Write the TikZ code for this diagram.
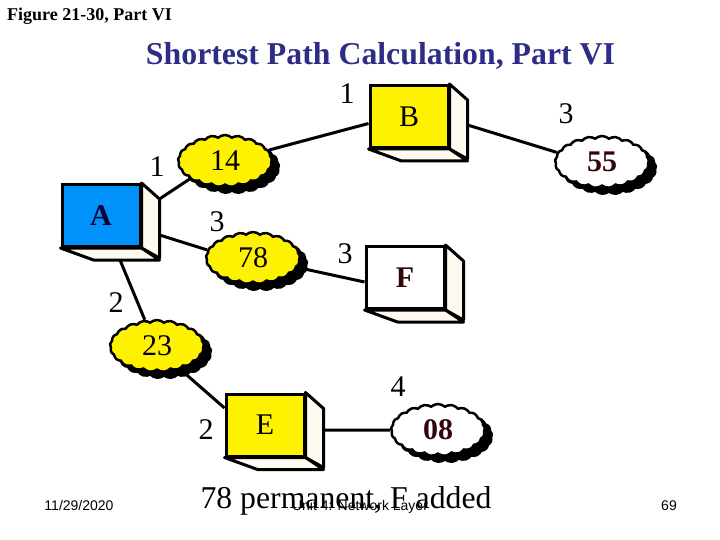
\documentclass[tikz,border=0pt]{standalone}
\usepackage{fontspec}
\setmainfont{Liberation Serif}
\setsansfont{Liberation Sans}
\usetikzlibrary{shapes.symbols,shadows}
\definecolor{sideBeige}{RGB}{255,250,240}
\definecolor{nodeBlue}{RGB}{0,145,250}
\definecolor{darkRed}{RGB}{50,5,10}
\definecolor{darkNavy}{RGB}{10,0,50}
\definecolor{titleBlue}{RGB}{45,45,135}
\tikzset{
	routerbox/.style={draw, line width=3pt, minimum width=78pt, minimum height=62pt, inner sep=0pt, font=\fontsize{30}{30}\selectfont},
	panel/.style={draw, line width=3pt, fill=sideBeige, line join=round},
	bubble/.style={cloud, cloud puffs=21, cloud puff arc=85, aspect=1.9, draw=black, line width=2.5pt, minimum width=94pt, minimum height=52pt, inner sep=0pt,
		copy shadow={shadow xshift=7pt, shadow yshift=-6pt, fill=black, draw=black}, font=\fontsize{30}{30}\selectfont},
	link/.style={line width=3pt},
	weight/.style={font=\fontsize{30}{30}\selectfont, inner sep=0pt},
	footer/.style={font=\sffamily\fontsize{14}{14}\selectfont, inner sep=0pt, anchor=base}
}
\begin{document}
\begin{tikzpicture}[x=1pt, y=-1pt]
	\useasboundingbox (0,0) rectangle (720,540);
	
	% routers
	\node[routerbox, fill=nodeBlue, text=darkNavy] (boxA) at (101,215.5) {\textbf{A}};
	\node[routerbox, fill=yellow] (boxB) at (409,116.5) {B};
	\node[routerbox, fill=white, text=darkRed] (boxF) at (405,277.5) {\textbf{F}};
	\node[routerbox, fill=yellow] (boxE) at (265,425) {E};
	\foreach \boxname in {boxA,boxB,boxF,boxE} {
		\draw[panel] (\boxname.north east) -- ++(18,16) -- ++(0,59) -- (\boxname.south east) -- cycle;
		\draw[panel] (\boxname.south east) -- ++(18,12) -- ++(-66,0) -- (\boxname.south west) -- cycle;
	}
	
	% tentative distances
	\node[bubble, fill=yellow] (cloud14) at (225,161) {14};
	\node[bubble, fill=yellow] (cloud78) at (253,258) {78};
	\node[bubble, fill=yellow] (cloud23) at (157,346) {23};
	\node[bubble, fill=white, text=darkRed] (cloud55) at (602,162) {\textbf{55}};
	\node[bubble, fill=white, text=darkRed] (cloud08) at (438,430) {\textbf{08}};
	
	% links
	\draw[link] ([shift={(18,16)}]boxA.north east) -- (cloud14.207);
	\draw[link] (cloud14.14) -- ([shift={(0,7)}]boxB.west);
	\draw[link] ([shift={(18,-13)}]boxA.south east) -- (cloud78.170);
	\draw[link] (cloud78.-12) -- ([shift={(0,4.5)}]boxF.west);
	\draw[link] ([shift={(19,12)}]boxA.south) -- (cloud23.115);
	\draw[link] (cloud23.-45) -- ([shift={(0,-17)}]boxE.west);
	\draw[link] ([shift={(18,8.5)}]boxB.east) -- (cloud55.168);
	\draw[link] ([shift={(18,5)}]boxE.east) -- (cloud08.west);
	
	% weights
	\node[weight] (w1) at (347,94) {1};
	\node[weight] (w2) at (157,167) {1};
	\node[weight] (w3) at (217,222) {3};
	\node[weight] (w4) at (566,114) {3};
	\node[weight] (w5) at (345,254) {3};
	\node[weight] (w6) at (116,303) {2};
	\node[weight] (w7) at (398,387) {4};
	\node[weight] (w8) at (206,430) {2};
	
	% text
	\node[font=\bfseries\fontsize{18}{18}\selectfont, inner sep=0pt, anchor=base west] (fig) at (7,21) {Figure 21-30, Part VI};
	\node[font=\bfseries\fontsize{31.8}{32}\selectfont, text=titleBlue, inner sep=0pt, anchor=base] (title) at (380.5,65) {Shortest Path Calculation, Part VI};
	\node[font=\fontsize{31.75}{32}\selectfont, inner sep=0pt, anchor=base] (note) at (346,508) {78 permanent, F added};
	\node[footer] (date) at (79,510) {11/29/2020};
	\node[footer] (unit) at (360,510) {Unit 4: Network Layer};
	\node[footer] (page) at (669,510) {69};
\end{tikzpicture}
\end{document}
